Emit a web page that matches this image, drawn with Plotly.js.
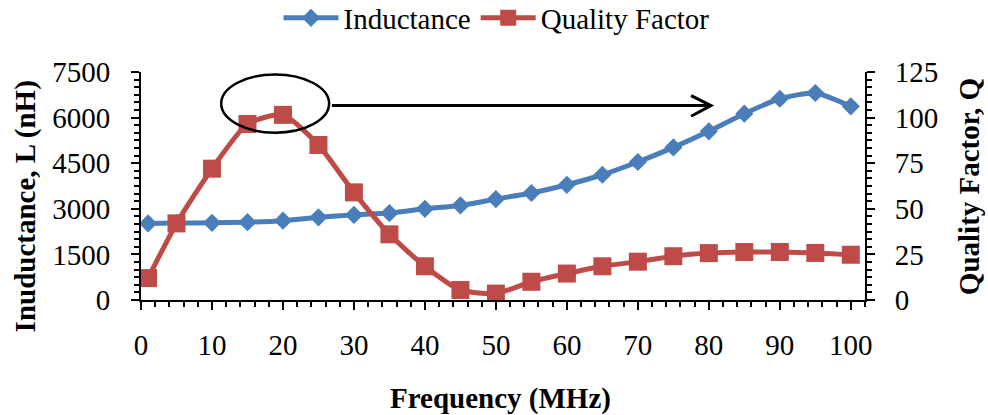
<!DOCTYPE html>
<html>
<head>
<meta charset="utf-8">
<script src="https://cdn.plot.ly/plotly-3.0.1.min.js"></script>
<style>html,body{margin:0;padding:0;background:#fff;}#chart{width:988px;height:415px;}</style>
</head>
<body>
<div id="chart"></div>
<script>
const frequency = [1, 5, 10, 15, 20, 25, 30, 35, 40, 45, 50, 55, 60, 65, 70, 75, 80, 85, 90, 95, 100];
const inductance = [2520, 2530, 2540, 2560, 2610, 2720, 2800, 2860, 3000, 3110, 3320, 3520, 3790, 4120, 4540, 5020, 5550, 6130, 6620, 6810, 6370];
const qualityFactor = [12, 42, 72, 96.5, 101.5, 85, 59, 36, 18.5, 5.5, 3.5, 10, 14.5, 18.5, 21, 24, 25.7, 26.3, 26.3, 25.8, 24.8];
const xTickVals = [0, 10, 20, 30, 40, 50, 60, 70, 80, 90, 100];
const yTickVals = [0, 1500, 3000, 4500, 6000, 7500];
const y2TickVals = [0, 25, 50, 75, 100, 125];

const FONT = 'Liberation Serif, Times New Roman, serif';
const BLUE = '#4a7ebb';
const RED = '#be4b48';
const FS = 29;

const traces = [
  {
    x: frequency, y: inductance, name: 'Inductance', type: 'scatter', mode: 'lines+markers',
    line: {color: BLUE, width: 5, shape: 'spline', smoothing: 0.6},
    marker: {symbol: 'diamond', size: 14, color: BLUE},
    yaxis: 'y'
  },
  {
    x: frequency, y: qualityFactor, name: 'Quality Factor', type: 'scatter', mode: 'lines+markers',
    line: {color: RED, width: 5, shape: 'spline', smoothing: 0.6},
    marker: {symbol: 'square', size: 18, color: RED},
    yaxis: 'y2'
  }
];

const axisCommon = {
  showgrid: false, zeroline: false, showline: true, linecolor: 'black', linewidth: 2,
  ticks: 'outside', ticklen: 8, tickwidth: 2, tickcolor: 'black',
  tickfont: {family: FONT, size: FS, color: 'black'}, fixedrange: true, automargin: false
};

const layout = {
  width: 988, height: 415,
  margin: {l: 141, r: 123, t: 72, b: 115, autoexpand: false},
  paper_bgcolor: 'white', plot_bgcolor: 'white',
  showlegend: true,
  legend: {orientation: 'h', x: 0.491, y: 1.237, xanchor: 'center', yanchor: 'middle',
           font: {family: FONT, size: FS, color: 'black'}, itemwidth: 55, tracegroupgap: 0},
  xaxis: Object.assign({}, axisCommon, {
    range: [0, 102], tickmode: 'array', tickvals: xTickVals, ticklabelstandoff: 10,
    minor: {dtick: 2, tick0: 0, ticks: 'outside', ticklen: 5, tickwidth: 2, tickcolor: 'black'}
  }),
  yaxis: Object.assign({}, axisCommon, {
    range: [0, 7500], tickmode: 'array', tickvals: yTickVals, ticklabelstandoff: 15,
    minor: {dtick: 250, tick0: 0, ticks: 'outside', ticklen: 5, tickwidth: 2, tickcolor: 'black'}
  }),
  yaxis2: Object.assign({}, axisCommon, {
    overlaying: 'y', side: 'right', range: [0, 125], tickmode: 'array', tickvals: y2TickVals, ticklabelstandoff: 14,
    minor: {dtick: 125/30, tick0: 0, ticks: 'outside', ticklen: 5, tickwidth: 2, tickcolor: 'black'}
  }),
  annotations: [
    {text: '<b>Frequency (MHz)</b>', xref: 'paper', yref: 'paper', x: 0.497, y: -0.43,
     xanchor: 'center', yanchor: 'middle', showarrow: false, font: {family: FONT, size: FS, color: 'black'}},
    {text: '<b>Inuductance, L (nH)</b>', xref: 'paper', yref: 'paper', x: -0.159, y: 0.41, textangle: -90,
     xanchor: 'center', yanchor: 'middle', showarrow: false, font: {family: FONT, size: FS, color: 'black'}},
    {text: '<b>Quality Factor, Q</b>', xref: 'paper', yref: 'paper', x: 1.144, y: 0.496, textangle: -90,
     xanchor: 'center', yanchor: 'middle', showarrow: false, font: {family: FONT, size: FS, color: 'black'}}
  ],
  shapes: [
    {type: 'circle', xref: 'x', yref: 'y', x0: 11.3, x1: 26.5, y0: 5505, y1: 7418,
     line: {color: 'black', width: 2.5}},
    {type: 'line', xref: 'x', yref: 'y', x0: 26.9, x1: 80.3, y0: 6396, y1: 6396,
     line: {color: 'black', width: 3}},
    {type: 'path', xref: 'x', yref: 'y', path: 'M 77.5,6725 L 80.3,6396 L 77.5,6043',
     line: {color: 'black', width: 3}}
  ]
};

Plotly.newPlot('chart', traces, layout, {displayModeBar: false, staticPlot: true});
</script>
</body>
</html>
